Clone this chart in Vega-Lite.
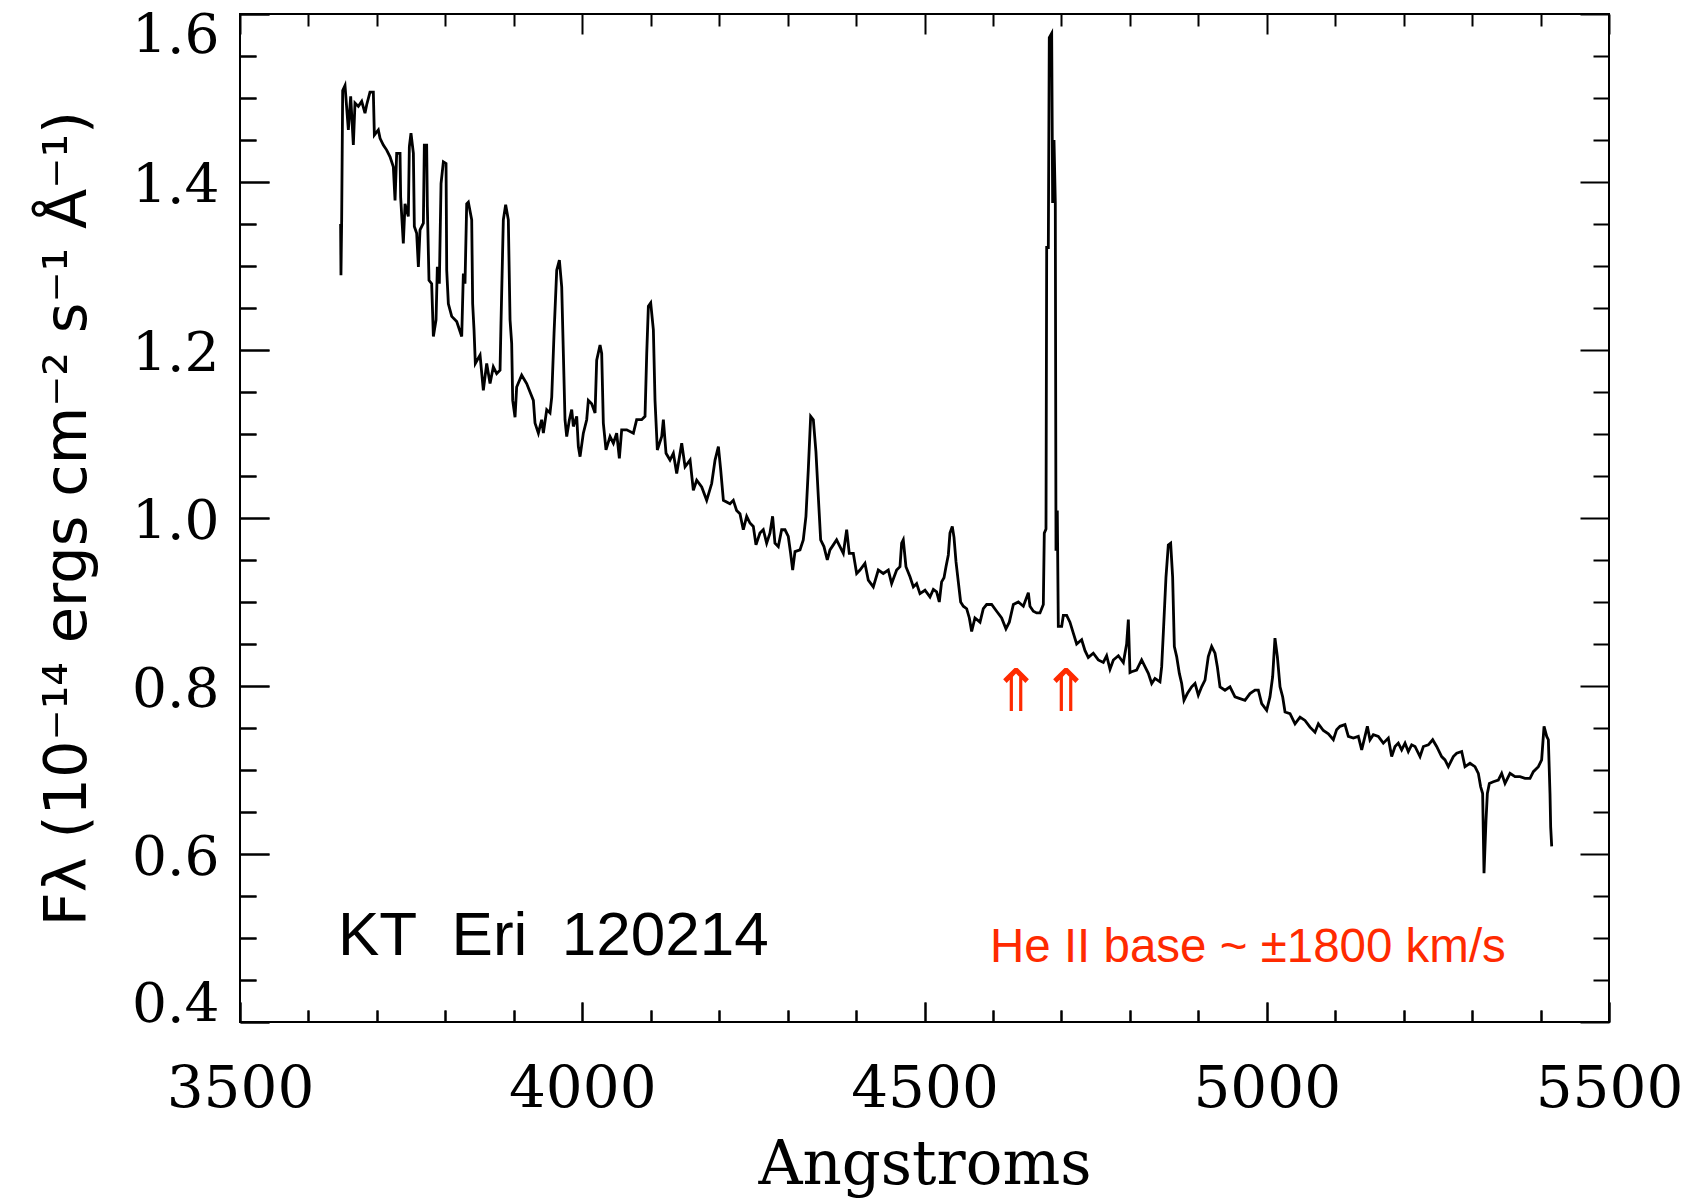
{
  "$schema": "https://vega.github.io/schema/vega-lite/v6.json",
  "width": 1369,
  "height": 1008,
  "autosize": {"type": "none"},
  "padding": {"left": 240, "top": 14, "right": 83, "bottom": 181},
  "background": "white",
  "config": {
    "view": {"stroke": "black", "strokeWidth": 2},
    "axis": {"domain": false, "ticks": true, "tickColor": "black", "tickWidth": 2, "gridColor": "black", "gridWidth": 2, "gridOpacity": 1, "labelColor": "black", "titleColor": "black", "labelOverlap": false, "labelBound": false}
  },
  "layer": [
    {
      "data": {"values": [
        {"w":3647.0,"f":1.350},{"w":3647.5,"f":1.289},{"w":3648.5,"f":1.353},{"w":3650.0,"f":1.509},{"w":3653.4,"f":1.515},
        {"w":3658.3,"f":1.462},{"w":3661.7,"f":1.502},{"w":3665.6,"f":1.444},{"w":3668.0,"f":1.494},{"w":3672.9,"f":1.490},
        {"w":3677.8,"f":1.496},{"w":3682.6,"f":1.482},{"w":3685.1,"f":1.492},{"w":3689.9,"f":1.507},{"w":3694.8,"f":1.507},
        {"w":3696.3,"f":1.456},{"w":3702.1,"f":1.462},{"w":3704.6,"f":1.452},{"w":3709.4,"f":1.444},{"w":3714.3,"f":1.438},
        {"w":3719.2,"f":1.430},{"w":3724.0,"f":1.418},{"w":3726.5,"f":1.378},{"w":3728.9,"f":1.434},{"w":3733.8,"f":1.434},
        {"w":3734.7,"f":1.382},{"w":3738.6,"f":1.327},{"w":3741.1,"f":1.374},{"w":3745.9,"f":1.359},{"w":3747.4,"f":1.442},
        {"w":3749.8,"f":1.458},{"w":3753.3,"f":1.434},{"w":3754.7,"f":1.347},{"w":3758.1,"f":1.339},{"w":3760.6,"f":1.299},
        {"w":3763.0,"f":1.343},{"w":3767.9,"f":1.351},{"w":3769.3,"f":1.444},{"w":3772.7,"f":1.444},{"w":3773.7,"f":1.371},
        {"w":3776.1,"f":1.283},{"w":3780.0,"f":1.279},{"w":3782.5,"f":1.216},{"w":3786.4,"f":1.236},{"w":3788.3,"f":1.299},
        {"w":3791.2,"f":1.279},{"w":3793.7,"f":1.398},{"w":3797.1,"f":1.424},{"w":3801.0,"f":1.422},{"w":3802.0,"f":1.295},
        {"w":3804.4,"f":1.255},{"w":3809.3,"f":1.240},{"w":3816.6,"f":1.234},{"w":3823.9,"f":1.216},{"w":3826.3,"f":1.291},
        {"w":3828.7,"f":1.279},{"w":3831.2,"f":1.374},{"w":3833.6,"f":1.376},{"w":3838.5,"f":1.355},{"w":3839.9,"f":1.255},
        {"w":3841.9,"f":1.224},{"w":3843.8,"f":1.184},{"w":3850.7,"f":1.194},{"w":3855.5,"f":1.152},{"w":3860.4,"f":1.184},
        {"w":3865.3,"f":1.160},{"w":3870.1,"f":1.180},{"w":3875.0,"f":1.172},{"w":3879.9,"f":1.176},{"w":3881.3,"f":1.232},
        {"w":3884.7,"f":1.355},{"w":3888.1,"f":1.373},{"w":3892.0,"f":1.355},{"w":3894.5,"f":1.236},{"w":3896.9,"f":1.208},
        {"w":3898.4,"f":1.140},{"w":3901.8,"f":1.120},{"w":3904.2,"f":1.156},{"w":3911.5,"f":1.170},{"w":3918.8,"f":1.160},
        {"w":3923.7,"f":1.150},{"w":3928.6,"f":1.140},{"w":3931.0,"f":1.113},{"w":3935.9,"f":1.101},{"w":3940.7,"f":1.117},
        {"w":3943.2,"f":1.101},{"w":3948.1,"f":1.129},{"w":3952.9,"f":1.125},{"w":3955.4,"f":1.144},{"w":3958.8,"f":1.220},
        {"w":3962.7,"f":1.295},{"w":3966.6,"f":1.307},{"w":3970.0,"f":1.275},{"w":3972.4,"f":1.196},{"w":3974.8,"f":1.117},
        {"w":3977.3,"f":1.097},{"w":3981.2,"f":1.117},{"w":3984.6,"f":1.129},{"w":3987.0,"f":1.109},{"w":3991.9,"f":1.121},
        {"w":3994.3,"f":1.085},{"w":3996.8,"f":1.073},{"w":4001.6,"f":1.101},{"w":4006.5,"f":1.117},{"w":4008.9,"f":1.140},
        {"w":4013.8,"f":1.136},{"w":4018.7,"f":1.125},{"w":4021.1,"f":1.188},{"w":4026.0,"f":1.206},{"w":4028.4,"f":1.196},
        {"w":4030.8,"f":1.113},{"w":4034.7,"f":1.081},{"w":4040.6,"f":1.097},{"w":4045.5,"f":1.089},{"w":4050.3,"f":1.101},
        {"w":4054.2,"f":1.071},{"w":4057.6,"f":1.105},{"w":4064.9,"f":1.105},{"w":4074.7,"f":1.101},{"w":4079.5,"f":1.117},
        {"w":4086.8,"f":1.117},{"w":4091.7,"f":1.121},{"w":4094.2,"f":1.196},{"w":4096.6,"f":1.252},{"w":4100.0,"f":1.256},
        {"w":4103.9,"f":1.224},{"w":4106.3,"f":1.140},{"w":4109.7,"f":1.081},{"w":4116.1,"f":1.097},{"w":4118.5,"f":1.117},
        {"w":4122.4,"f":1.077},{"w":4128.2,"f":1.069},{"w":4133.1,"f":1.077},{"w":4138.0,"f":1.053},{"w":4145.3,"f":1.089},
        {"w":4150.2,"f":1.061},{"w":4157.5,"f":1.069},{"w":4162.3,"f":1.033},{"w":4167.2,"f":1.045},{"w":4174.5,"f":1.037},
        {"w":4181.8,"f":1.021},{"w":4189.1,"f":1.041},{"w":4194.0,"f":1.069},{"w":4198.9,"f":1.085},{"w":4202.3,"f":1.057},
        {"w":4206.2,"f":1.021},{"w":4215.8,"f":1.017},{"w":4220.7,"f":1.021},{"w":4225.5,"f":1.009},{"w":4230.4,"f":1.005},
        {"w":4235.3,"f":0.986},{"w":4240.2,"f":1.002},{"w":4245.0,"f":0.994},{"w":4249.9,"f":0.990},{"w":4253.8,"f":0.968},
        {"w":4259.6,"f":0.982},{"w":4264.5,"f":0.986},{"w":4269.4,"f":0.970},{"w":4274.2,"f":0.982},{"w":4278.1,"f":1.002},
        {"w":4281.5,"f":0.970},{"w":4286.4,"f":0.966},{"w":4291.3,"f":0.986},{"w":4296.2,"f":0.986},{"w":4301.0,"f":0.978},
        {"w":4304.4,"f":0.958},{"w":4307.4,"f":0.938},{"w":4310.8,"f":0.960},{"w":4318.1,"f":0.962},{"w":4322.9,"f":0.974},
        {"w":4326.8,"f":1.002},{"w":4330.2,"f":1.057},{"w":4333.7,"f":1.121},{"w":4337.6,"f":1.117},{"w":4341.4,"f":1.079},
        {"w":4344.9,"f":1.025},{"w":4348.3,"f":0.974},{"w":4353.1,"f":0.966},{"w":4358.0,"f":0.950},{"w":4361.9,"f":0.962},
        {"w":4366.8,"f":0.968},{"w":4371.6,"f":0.974},{"w":4376.5,"f":0.966},{"w":4381.4,"f":0.958},{"w":4386.3,"f":0.986},
        {"w":4390.1,"f":0.958},{"w":4396.0,"f":0.958},{"w":4400.9,"f":0.934},{"w":4405.7,"f":0.938},{"w":4413.0,"f":0.946},
        {"w":4417.9,"f":0.926},{"w":4425.2,"f":0.918},{"w":4432.5,"f":0.938},{"w":4439.8,"f":0.934},{"w":4447.1,"f":0.938},
        {"w":4452.0,"f":0.922},{"w":4459.3,"f":0.938},{"w":4464.2,"f":0.942},{"w":4466.6,"f":0.970},{"w":4469.0,"f":0.974},
        {"w":4472.9,"f":0.942},{"w":4478.8,"f":0.930},{"w":4483.7,"f":0.918},{"w":4488.5,"f":0.922},{"w":4493.4,"f":0.910},
        {"w":4500.7,"f":0.914},{"w":4508.0,"f":0.906},{"w":4512.9,"f":0.915},{"w":4517.7,"f":0.912},{"w":4521.6,"f":0.900},
        {"w":4525.0,"f":0.924},{"w":4528.5,"f":0.929},{"w":4531.4,"f":0.942},{"w":4534.8,"f":0.956},{"w":4537.2,"f":0.982},
        {"w":4540.6,"f":0.990},{"w":4543.1,"f":0.977},{"w":4546.0,"f":0.948},{"w":4549.4,"f":0.924},{"w":4552.8,"f":0.900},
        {"w":4556.7,"f":0.895},{"w":4561.6,"f":0.892},{"w":4565.5,"f":0.881},{"w":4568.9,"f":0.865},{"w":4573.7,"f":0.881},
        {"w":4581.1,"f":0.876},{"w":4585.9,"f":0.892},{"w":4590.8,"f":0.897},{"w":4598.1,"f":0.897},{"w":4605.4,"f":0.889},
        {"w":4612.7,"f":0.881},{"w":4619.0,"f":0.868},{"w":4623.9,"f":0.876},{"w":4629.8,"f":0.897},{"w":4637.1,"f":0.900},
        {"w":4644.4,"f":0.895},{"w":4651.7,"f":0.911},{"w":4654.1,"f":0.895},{"w":4659.0,"f":0.889},{"w":4663.8,"f":0.887},
        {"w":4668.7,"f":0.887},{"w":4673.6,"f":0.897},{"w":4675.0,"f":0.982},{"w":4677.5,"f":0.987},{"w":4678.5,"f":1.322},
        {"w":4680.9,"f":1.322},{"w":4682.3,"f":1.572},{"w":4685.8,"f":1.577},{"w":4687.2,"f":1.375},{"w":4689.2,"f":1.450},
        {"w":4691.1,"f":1.375},{"w":4692.1,"f":0.961},{"w":4694.0,"f":1.009},{"w":4695.5,"f":0.871},{"w":4700.4,"f":0.871},
        {"w":4702.8,"f":0.884},{"w":4707.7,"f":0.884},{"w":4712.5,"f":0.876},{"w":4717.4,"f":0.863},{"w":4722.3,"f":0.850},
        {"w":4729.6,"f":0.855},{"w":4734.5,"f":0.842},{"w":4739.3,"f":0.834},{"w":4746.6,"f":0.839},{"w":4753.9,"f":0.831},
        {"w":4761.2,"f":0.828},{"w":4766.1,"f":0.836},{"w":4771.0,"f":0.820},{"w":4775.9,"f":0.831},{"w":4783.2,"f":0.836},
        {"w":4790.5,"f":0.828},{"w":4795.3,"f":0.850},{"w":4797.8,"f":0.879},{"w":4800.2,"f":0.816},{"w":4802.6,"f":0.817},
        {"w":4809.9,"f":0.819},{"w":4817.2,"f":0.831},{"w":4822.1,"f":0.823},{"w":4827.0,"f":0.815},{"w":4831.9,"f":0.803},
        {"w":4836.7,"f":0.809},{"w":4844.0,"f":0.805},{"w":4846.5,"f":0.823},{"w":4848.9,"f":0.863},{"w":4852.8,"f":0.930},
        {"w":4856.2,"f":0.968},{"w":4859.6,"f":0.970},{"w":4862.5,"f":0.930},{"w":4865.0,"f":0.847},{"w":4868.4,"f":0.835},
        {"w":4872.3,"f":0.815},{"w":4875.7,"f":0.803},{"w":4879.1,"f":0.783},{"w":4884.0,"f":0.791},{"w":4890.3,"f":0.799},
        {"w":4895.2,"f":0.803},{"w":4900.0,"f":0.789},{"w":4904.9,"f":0.799},{"w":4909.8,"f":0.807},{"w":4914.6,"f":0.835},
        {"w":4919.5,"f":0.847},{"w":4924.4,"f":0.839},{"w":4927.8,"f":0.823},{"w":4931.7,"f":0.799},{"w":4939.0,"f":0.795},
        {"w":4946.3,"f":0.799},{"w":4953.6,"f":0.787},{"w":4960.9,"f":0.785},{"w":4968.2,"f":0.783},{"w":4975.5,"f":0.791},
        {"w":4982.8,"f":0.795},{"w":4987.7,"f":0.795},{"w":4992.6,"f":0.779},{"w":4999.9,"f":0.771},{"w":5004.7,"f":0.787},
        {"w":5008.6,"f":0.811},{"w":5012.0,"f":0.857},{"w":5015.5,"f":0.835},{"w":5019.4,"f":0.799},{"w":5023.3,"f":0.787},
        {"w":5026.7,"f":0.769},{"w":5034.0,"f":0.767},{"w":5041.3,"f":0.755},{"w":5048.6,"f":0.763},{"w":5055.9,"f":0.759},
        {"w":5063.2,"f":0.751},{"w":5070.5,"f":0.745},{"w":5075.4,"f":0.755},{"w":5082.7,"f":0.747},{"w":5090.0,"f":0.743},
        {"w":5097.3,"f":0.736},{"w":5102.1,"f":0.748},{"w":5107.0,"f":0.752},{"w":5114.3,"f":0.754},{"w":5119.2,"f":0.740},
        {"w":5126.5,"f":0.738},{"w":5133.8,"f":0.740},{"w":5138.7,"f":0.724},{"w":5143.5,"f":0.740},{"w":5147.0,"f":0.752},
        {"w":5150.8,"f":0.736},{"w":5155.7,"f":0.742},{"w":5163.0,"f":0.740},{"w":5170.3,"f":0.732},{"w":5177.6,"f":0.738},
        {"w":5182.5,"f":0.716},{"w":5187.4,"f":0.728},{"w":5192.2,"f":0.732},{"w":5197.1,"f":0.724},{"w":5202.0,"f":0.732},
        {"w":5206.8,"f":0.722},{"w":5211.7,"f":0.730},{"w":5216.6,"f":0.728},{"w":5223.9,"f":0.716},{"w":5228.8,"f":0.728},
        {"w":5236.1,"f":0.730},{"w":5242.4,"f":0.736},{"w":5248.2,"f":0.728},{"w":5255.5,"f":0.716},{"w":5260.4,"f":0.712},
        {"w":5265.3,"f":0.704},{"w":5272.6,"f":0.716},{"w":5277.5,"f":0.720},{"w":5284.8,"f":0.722},{"w":5289.6,"f":0.704},
        {"w":5296.9,"f":0.708},{"w":5304.2,"f":0.704},{"w":5309.1,"f":0.696},{"w":5312.5,"f":0.680},{"w":5315.4,"f":0.672},
        {"w":5317.4,"f":0.577},{"w":5320.3,"f":0.640},{"w":5322.3,"f":0.672},{"w":5325.2,"f":0.684},{"w":5331.0,"f":0.686},
        {"w":5338.3,"f":0.688},{"w":5343.2,"f":0.696},{"w":5348.1,"f":0.684},{"w":5355.4,"f":0.696},{"w":5362.7,"f":0.692},
        {"w":5370.0,"f":0.692},{"w":5377.3,"f":0.690},{"w":5384.6,"f":0.690},{"w":5389.5,"f":0.698},{"w":5396.8,"f":0.704},
        {"w":5401.6,"f":0.712},{"w":5405.1,"f":0.752},{"w":5409.0,"f":0.740},{"w":5411.4,"f":0.736},{"w":5413.8,"f":0.672},
        {"w":5414.8,"f":0.632},{"w":5416.3,"f":0.609}
      ]},
      "mark": {"type": "line", "color": "black", "strokeWidth": 2.8, "clip": true},
      "encoding": {
        "x": {
          "field": "w", "type": "quantitative",
          "scale": {"domain": [3500, 5500], "nice": false, "zero": false},
          "axis": {
            "orient": "bottom",
            "values": [3500,3600,3700,3800,3900,4000,4100,4200,4300,4400,4500,4600,4700,4800,4900,5000,5100,5200,5300,5400,5500],
            "format": "d",
            "labelExpr": "datum.value % 500 === 0 ? datum.label : ''",
            "tickSize": {"condition": {"test": "datum.value % 500 === 0", "value": -20}, "value": -12},
            "grid": true,
            "gridDash": {"condition": {"test": "datum.value % 500 === 0", "value": [20, 968]}, "value": [12, 984]},
            "labelFlush": false,
            "labelFont": "DejaVu Serif", "labelFontSize": 58, "labelPadding": 58,
            "title": "Angstroms", "titleFont": "DejaVu Serif", "titleFontSize": 61, "titleFontWeight": "normal",
            "titleBaseline": "alphabetic", "titleY": 161
          }
        },
        "y": {
          "field": "f", "type": "quantitative",
          "scale": {"domain": [0.4, 1.6], "nice": false, "zero": false},
          "axis": {
            "orient": "left",
            "values": [0.4,0.45,0.5,0.55,0.6,0.65,0.7,0.75,0.8,0.85,0.9,0.95,1.0,1.05,1.1,1.15,1.2,1.25,1.3,1.35,1.4,1.45,1.5,1.55,1.6],
            "format": ".1f",
            "labelExpr": "round(datum.value * 100) % 20 === 0 ? datum.label : ''",
            "tickSize": {"condition": {"test": "round(datum.value * 100) % 20 === 0", "value": -29}, "value": -16},
            "grid": true,
            "gridDash": {"condition": {"test": "round(datum.value * 100) % 20 === 0", "value": [29, 1311]}, "value": [16, 1337]},
            "labelFlush": true, "labelFlushOffset": 8, "labelOffset": 3,
            "labelFont": "DejaVu Serif", "labelFontSize": 55, "labelPadding": 50,
            "title": "Fλ  (10⁻¹⁴ ergs  cm⁻²  s⁻¹  Å⁻¹)", "titleFont": "DejaVu Sans", "titleFontSize": 59, "titleFontWeight": "normal", "titlePadding": 34
          }
        }
      }
    },
    {
      "data": {"values": [{"w": 3643, "f": 0.48, "label": "KT\u00a0\u00a0Eri\u00a0\u00a0120214"}]},
      "mark": {"type": "text", "font": "Liberation Sans", "fontSize": 62, "align": "left", "baseline": "alphabetic", "color": "black"},
      "encoding": {
        "x": {"field": "w", "type": "quantitative"},
        "y": {"field": "f", "type": "quantitative"},
        "text": {"field": "label"}
      }
    },
    {
      "data": {"values": [{"w": 4595.7, "f": 0.4714, "label": "He II base ~ ±1800 km/s"}]},
      "mark": {"type": "text", "font": "Liberation Sans", "fontSize": 47.5, "align": "left", "baseline": "alphabetic", "color": "#ff2a00"},
      "encoding": {
        "x": {"field": "w", "type": "quantitative"},
        "y": {"field": "f", "type": "quantitative"},
        "text": {"field": "label"}
      }
    },
    {
      "data": {"values": [{"w": 4633.7, "f": 0.799, "label": "⇑"}, {"w": 4706.7, "f": 0.799, "label": "⇑"}]},
      "mark": {"type": "text", "font": "DejaVu Sans Mono", "fontSize": 80, "align": "center", "baseline": "middle", "color": "#ff2a00"},
      "encoding": {
        "x": {"field": "w", "type": "quantitative"},
        "y": {"field": "f", "type": "quantitative"},
        "text": {"field": "label"}
      }
    }
  ]
}
